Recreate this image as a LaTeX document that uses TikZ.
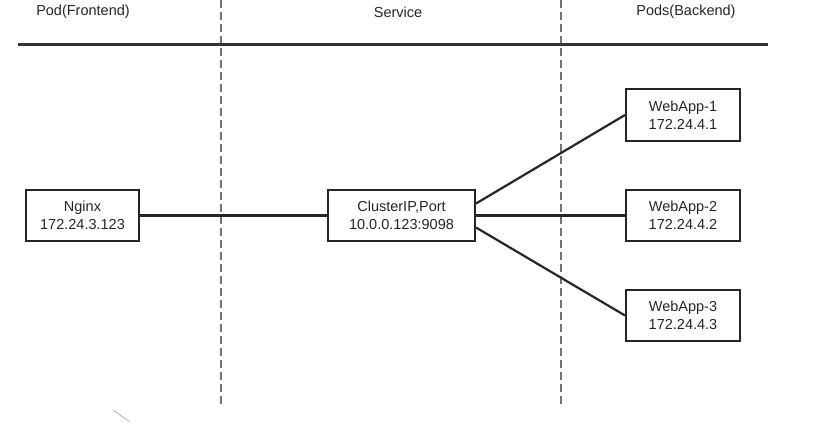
\documentclass[tikz,border=0pt]{standalone}
\usepackage{fontspec}
\setmainfont{Liberation Sans}
\begin{document}
\begin{tikzpicture}[x=1pt,y=-1pt,
  boxnode/.style={draw=black!85,line width=2pt,fill=white,inner sep=0pt,align=center,
    font=\fontsize{14.5}{18}\selectfont,text=black!85},
  hdr/.style={font=\fontsize{14.5}{18}\selectfont,text=black!85},
  conn/.style={draw=black!85,line width=2.2pt},
  divider/.style={draw=black!55,line width=1.2pt,dash pattern=on 8pt off 4pt}]
\useasboundingbox[fill=white] (0,0) rectangle (816,424);
% column dividers
\coordinate (d1t) at (221,0); \coordinate (d1b) at (221,405);
\coordinate (d2t) at (561,0); \coordinate (d2b) at (561,405);
\draw[divider] (d1t) -- (d1b);
\draw[divider] (d2t) -- (d2b);
% header
\node[hdr] (h1) at (83,12) {Pod(Frontend)};
\node[hdr] (h2) at (398,12) {Service};
\node[hdr] (h3) at (686,12) {Pods(Backend)};
\coordinate (hl) at (18,44); \coordinate (hr) at (768,44);
\draw[draw=black!80,line width=3pt] (hl) -- (hr);
% boxes
\node[boxnode,minimum width=113pt,minimum height=51pt] (nginx) at (82.5,215.5) {Nginx\\172.24.3.123};
\node[boxnode,minimum width=147pt,minimum height=51pt] (svc) at (401.5,215.5) {ClusterIP,Port\\10.0.0.123:9098};
\node[boxnode,minimum width=114pt,minimum height=52pt] (w1) at (683,115) {WebApp-1\\172.24.4.1};
\node[boxnode,minimum width=114pt,minimum height=51pt] (w2) at (683,215.5) {WebApp-2\\172.24.4.2};
\node[boxnode,minimum width=114pt,minimum height=51pt] (w3) at (683,315.5) {WebApp-3\\172.24.4.3};
% connectors
\draw[conn] (nginx.east) -- (svc.west);
\draw[conn] ([yshift=12pt]svc.east) -- (w1.west);
\draw[conn] (svc.east) -- (w2.west);
\draw[conn] ([yshift=-12pt]svc.east) -- (w3.west);
% stray mark
\coordinate (m1) at (113,410); \coordinate (m2) at (130,422);
\draw[black!30,line width=0.8pt] (m1) -- (m2);
\end{tikzpicture}
\end{document}
